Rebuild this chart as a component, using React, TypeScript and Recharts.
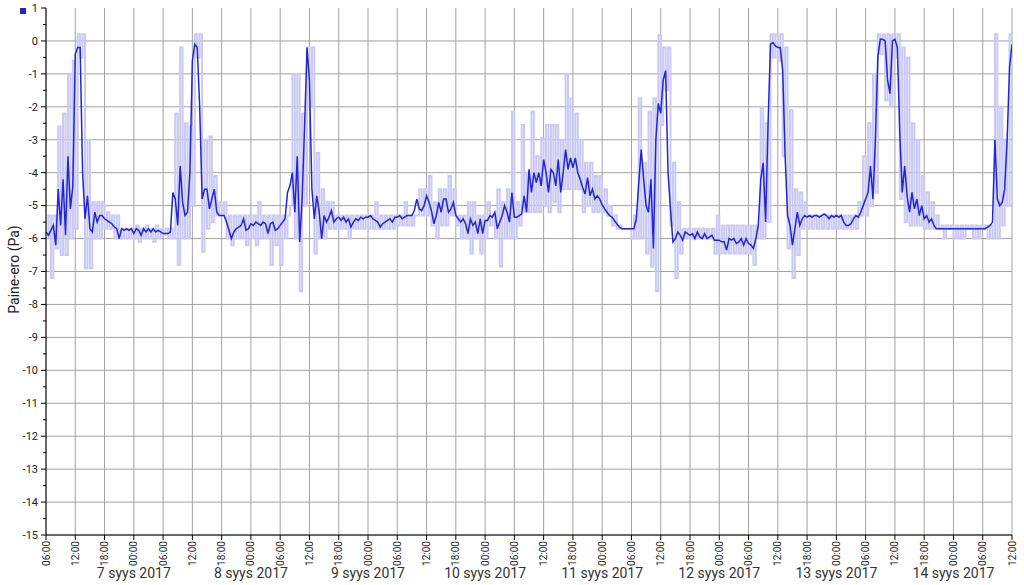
import { CartesianGrid, ComposedChart, Line, XAxis, YAxis } from "recharts";

const DARK = "#2424d4";
const LIGHT = "#c9c9f4";
const GRID = "#a3a3a3";
const FONT = "Roboto, 'Open Sans', sans-serif";

// x = hours since 6 syys 2017 06:00, one tick every 6 h
const HOUR_LABELS = ["06:00", "12:00", "18:00", "00:00"];
const DAY_LABELS = [
  "7 syys 2017",
  "8 syys 2017",
  "9 syys 2017",
  "10 syys 2017",
  "11 syys 2017",
  "12 syys 2017",
  "13 syys 2017",
  "14 syys 2017",
];
const X_TICKS = Array.from({ length: 34 }, (_, i) => i * 6);
const Y_TICKS = Array.from({ length: 33 }, (_, i) => -15 + i * 0.5);
const Y_GRID = Array.from({ length: 16 }, (_, i) => -15 + i);

// smoothed pressure difference, every 30 min (Pa)
const smoothed = [
  // 6.9. 06:00 ->
  -5.8, -5.9, -5.75, -5.6, -6.2, -4.5, -5.6, -4.2, -5.9, -3.5, -5.1, -4.4,
  -0.4, -0.2, -0.2, -4.0, -5.4, -4.7, -5.7, -5.8, -5.2, -5.5, -5.3, -5.3,
  -5.4, -5.45, -5.5, -5.55, -5.65, -5.7, -6.0, -5.7, -5.75, -5.7, -5.75, -5.7,
  -5.85, -5.7, -5.75, -5.9, -5.7, -5.8, -5.7, -5.8, -5.7, -5.8, -5.75, -5.8,
  // 7.9. 06:00 ->
  -5.85, -5.85, -5.85, -5.8, -4.6, -4.8, -5.6, -3.8, -4.9, -5.3, -5.2, -4.0,
  -0.6, -0.1, -0.2, -2.0, -4.8, -4.5, -4.5, -5.1, -4.8, -4.5, -5.2, -5.3,
  -5.3, -5.3, -5.5, -5.75, -6.0, -5.8, -5.7, -5.65, -5.6, -5.4, -5.75, -5.7,
  -5.55, -5.6, -5.5, -5.55, -5.6, -5.5, -5.55, -5.85, -5.55, -5.5, -5.75, -5.7,
  // 8.9. 06:00 ->
  -5.6, -5.5, -5.4, -4.6, -4.4, -4.0, -5.2, -3.5, -6.1, -4.8, -2.6, -0.2,
  -1.2, -4.5, -5.4, -4.7, -5.2, -6.0, -5.3, -5.5, -5.35, -5.15, -5.5, -5.4,
  -5.35, -5.45, -5.35, -5.5, -5.4, -5.65, -5.5, -5.4, -5.45, -5.35, -5.4, -5.35,
  -5.35, -5.3, -5.4, -5.45, -5.5, -5.65, -5.55, -5.5, -5.45, -5.4, -5.5, -5.35,
  // 9.9. 06:00 ->
  -5.35, -5.3, -5.4, -5.35, -5.3, -5.3, -5.3, -5.15, -4.8, -5.1, -5.15, -5.0,
  -4.7, -4.9, -5.15, -5.55, -5.3, -4.9, -5.2, -4.8, -4.8, -5.2, -5.1, -4.9,
  -5.3, -5.4, -5.5, -5.4, -5.55, -5.85, -5.4, -5.6, -5.5, -5.85, -5.4, -5.85,
  -5.45, -5.45, -5.3, -5.35, -5.2, -5.7, -5.5, -5.3, -5.0, -5.2, -5.5, -4.6,
  // 10.9. 06:00 ->
  -5.35, -5.35, -5.3, -5.25, -4.7, -5.2, -3.9, -4.6, -4.0, -4.3, -4.0, -4.4,
  -3.6, -4.0, -4.6, -3.9, -4.0, -4.4, -3.6, -4.6, -4.0, -3.3, -3.9, -3.55,
  -3.85, -3.55, -4.0, -4.2, -4.45, -4.65, -4.15, -4.7, -4.5, -4.8, -4.7, -4.8,
  -4.98, -5.1, -5.2, -5.3, -5.35, -5.45, -5.55, -5.65, -5.7, -5.7, -5.7, -5.7,
  // 11.9. 06:00 ->
  -5.7, -5.7, -5.4, -4.3, -3.3, -4.2, -5.0, -5.2, -4.2, -6.3, -3.0, -1.9,
  -2.2, -1.2, -0.9, -4.0, -5.1, -6.1, -6.0, -5.8, -5.9, -6.05, -5.8, -5.85,
  -5.9, -5.85, -6.0, -5.8, -5.95, -6.0, -5.85, -6.0, -5.95, -5.9, -6.05, -6.05,
  -6.05, -6.1, -6.1, -6.35, -6.0, -6.05, -6.0, -6.15, -6.1, -6.0, -6.2, -6.0,
  // 12.9. 06:00 ->
  -6.15, -6.2, -6.3, -6.0, -5.6, -4.2, -3.7, -5.5, -2.5, -0.1, -0.05, -0.15,
  -0.2, -0.2, -0.9, -3.5, -5.3, -5.6, -6.2, -5.7, -5.2, -5.6, -5.4, -5.3,
  -5.35, -5.3, -5.35, -5.3, -5.3, -5.35, -5.3, -5.25, -5.3, -5.4, -5.3, -5.35,
  -5.3, -5.35, -5.3, -5.5, -5.6, -5.6, -5.55, -5.4, -5.3, -5.35, -5.2, -5.0,
  // 13.9. 06:00 -> 14.9. 12:00
  -4.8, -4.6, -3.8, -4.8, -3.0, -0.5, 0.05, 0.05, 0.0, -1.2,
  -1.6, 0.0, 0.05, -0.2, -2.8, -4.6, -3.8, -4.7, -5.2, -4.6,
  -5.1, -4.8, -5.3, -5.0, -5.4, -5.3, -5.5, -5.4, -5.6, -5.7,
  -5.7, -5.7, -5.7, -5.7, -5.7, -5.7, -5.7, -5.7, -5.7, -5.7,
  -5.7, -5.7, -5.7, -5.7, -5.7, -5.7, -5.7, -5.7, -5.7, -5.7,
  -5.65, -5.6, -5.5, -3.0, -4.8, -5.0, -4.9, -4.5, -3.0, -0.8,
  -0.1,
];

// raw readings: hourly upper and lower swing (Pa)
const rawHigh = [
  -5.3, -5.3, -2.6, -2.2, -1.0, -0.6, 0.2, 0.2, -3.0, -4.9, -4.9, -4.9,
  -5.2, -5.3, -5.3, -5.7, -5.7, -5.7, -5.6, -5.7, -5.6, -5.7, -5.6, -5.7,
  -5.7, -5.7, -2.2, -0.2, -2.5, -2.6, 0.2, 0.2, -3.0, -2.9, -4.1, -4.9,
  -4.9, -5.3, -5.3, -5.3, -5.3, -5.3, -5.3, -4.9, -5.3, -5.3, -5.3, -5.3,
  -5.3, -5.3, -1.0, -1.0, -2.2, -0.2, -0.2, -3.4, -4.5, -4.9, -4.9, -5.3,
  -5.3, -5.3, -5.3, -5.3, -5.3, -5.3, -5.3, -4.9, -5.3, -5.3, -5.3, -5.3,
  -5.3, -4.9, -5.3, -5.3, -4.5, -4.5, -4.1, -4.9, -4.5, -4.5, -4.1, -4.5,
  -5.3, -5.3, -4.9, -4.9, -5.3, -5.3, -4.9, -5.3, -4.5, -4.9, -4.5, -2.15,
  -4.9, -2.55, -4.0, -2.15, -3.5, -2.95, -2.55, -2.55, -2.55, -3.0, -1.0, -1.75,
  -2.2, -3.0, -3.7, -3.7, -4.1, -4.1, -4.5, -5.0, -5.3, -5.6, -5.7, -5.7,
  -5.3, -1.75, -3.7, -2.15, -1.75, 0.17, -0.2, -0.2, -3.7, -4.9, -5.7, -5.7,
  -5.7, -5.7, -5.7, -5.7, -5.7, -5.3, -5.6, -5.6, -5.6, -5.6, -5.6, -5.6,
  -5.6, -5.6, -2.0, -2.5, 0.2, 0.2, 0.2, -0.2, -2.1, -4.5, -4.6, -4.9,
  -5.3, -5.3, -5.3, -5.3, -5.3, -5.3, -5.3, -5.3, -5.3, -5.3, -4.9, -3.5,
  -2.5, -1.0, 0.2, 0.2, 0.2, 0.2, 0.2, -0.2, -0.5, -2.5, -3.0, -4.1,
  -4.6, -4.9, -5.3, -5.6, -5.6, -5.6, -5.6, -5.6, -5.6, -5.6, -5.6, -5.6,
  -5.6, -5.6, 0.2, -2.0, -3.0, 0.2, 0.2,
];

const rawLow = [
  -6.0, -7.2, -6.3, -6.5, -6.5, -6.0, -5.7, -0.5, -6.9, -6.9, -6.0, -6.0,
  -5.7, -5.7, -6.0, -6.0, -6.0, -6.0, -6.0, -6.1, -6.0, -6.0, -6.1, -6.0,
  -5.9, -6.0, -6.0, -6.8, -6.0, -6.0, -5.0, -0.5, -6.4, -5.7, -5.5, -5.3,
  -5.3, -6.0, -6.2, -6.0, -6.0, -6.2, -6.0, -6.2, -6.0, -6.0, -6.8, -6.2,
  -6.8, -6.0, -5.0, -6.0, -7.6, -5.0, -2.0, -6.45, -6.0, -6.0, -5.7, -5.7,
  -5.7, -5.7, -6.0, -5.7, -5.7, -5.7, -5.7, -5.7, -5.7, -5.7, -5.7, -5.7,
  -5.6, -5.6, -5.6, -5.6, -5.3, -5.3, -5.3, -5.6, -6.0, -5.6, -5.6, -5.3,
  -5.6, -6.0, -6.0, -6.45, -6.0, -6.45, -6.0, -5.6, -6.0, -6.85, -6.0, -6.0,
  -6.0, -5.6, -5.2, -5.2, -5.2, -5.2, -5.0, -5.2, -4.9, -5.2, -4.5, -4.5,
  -4.5, -4.5, -5.2, -5.0, -5.2, -5.2, -5.2, -5.3, -5.6, -5.7, -5.7, -5.7,
  -6.0, -6.0, -6.0, -6.45, -6.85, -7.6, -2.55, -1.5, -5.6, -7.2, -6.45, -6.0,
  -6.0, -6.0, -6.0, -6.0, -6.0, -6.45, -6.45, -6.45, -6.45, -6.45, -6.45, -6.45,
  -6.45, -6.8, -6.0, -6.0, -5.5, -0.5, -0.6, -3.5, -6.3, -7.2, -6.5, -5.7,
  -5.7, -5.7, -5.7, -5.7, -5.7, -5.7, -5.7, -5.7, -5.7, -5.7, -5.7, -5.3,
  -5.3, -5.0, -4.6, -0.4, -1.8, -2.0, -0.5, -4.8, -5.5, -5.6, -5.6, -5.6,
  -5.7, -5.7, -5.7, -5.7, -6.0, -5.7, -6.0, -6.0, -6.0, -5.7, -6.0, -6.0,
  -5.7, -6.0, -6.0, -6.0, -5.6, -5.0, -0.5,
];

const smoothData = smoothed.map((v, i) => ({ t: i / 2, v }));
const rawData = rawLow.flatMap((lo, h) =>
  h < rawLow.length - 1
    ? [
        { t: h, v: lo },
        { t: h + 0.5, v: rawHigh[h] },
      ]
    : [{ t: h, v: lo }]
);

const Y_TICK_SIZE = 5;
const Y_TICK_MARGIN = 3;

function TimeTick({ x, y, payload }: any) {
  const t = payload.value as number;
  const dayIdx = (t - 18) / 24;
  const day = Number.isInteger(dayIdx) && dayIdx >= 0 ? DAY_LABELS[dayIdx] : null;
  return (
    <g>
      <text
        x={x}
        y={y}
        transform={`rotate(-90 ${x} ${y})`}
        textAnchor="end"
        dy="0.35em"
        fontSize={10}
        fontFamily={FONT}
        fill="#222"
      >
        {HOUR_LABELS[(t / 6) % 4]}
      </text>
      {day && (
        <text x={x} y={y + 37} textAnchor="middle" fontSize={14} fontFamily={FONT} fill="#333">
          {day}
        </text>
      )}
    </g>
  );
}

function PressureTick({ x, y, payload }: any) {
  const v = payload.value as number;
  const axisX = x + Y_TICK_SIZE + Y_TICK_MARGIN;
  const major = Number.isInteger(v);
  return (
    <g>
      <line x1={axisX - (major ? 5 : 3)} x2={axisX} y1={y} y2={y} stroke="#000" />
      {major && (
        <text x={x} y={y} dy="0.35em" textAnchor="end" fontSize={11} fontFamily={FONT} fill="#222">
          {v}
        </text>
      )}
    </g>
  );
}

function AxisTitle({ viewBox }: any) {
  const cx = viewBox.x + 19;
  const cy = viewBox.y + viewBox.height / 2 - 2;
  return (
    <text
      x={cx}
      y={cy}
      transform={`rotate(-90 ${cx} ${cy})`}
      textAnchor="middle"
      fontSize={14}
      fontFamily={FONT}
      fill="#222"
    >
      Paine-ero (Pa)
    </text>
  );
}

export default function App() {
  return (
    <div style={{ position: "absolute", left: 0, top: 0, width: 1024, height: 585, background: "#fff" }}>
      <div style={{ position: "absolute", left: 20, top: 8, width: 6, height: 6, background: DARK }} />
      <ComposedChart width={1024} height={585} margin={{ top: 8, right: 12, bottom: 0, left: 0 }}>
        <CartesianGrid
          stroke={GRID}
          horizontalValues={Y_GRID}
          verticalValues={X_TICKS}
        />
        <XAxis
          dataKey="t"
          type="number"
          domain={[0, 198]}
          ticks={X_TICKS}
          interval={0}
          height={50}
          tickSize={5}
          tickMargin={1}
          stroke="#000"
          tick={<TimeTick />}
          allowDataOverflow
        />
        <YAxis
          type="number"
          domain={[-15, 1]}
          ticks={Y_TICKS}
          interval={0}
          width={46}
          tickSize={Y_TICK_SIZE}
          tickMargin={Y_TICK_MARGIN}
          tickLine={false}
          stroke="#000"
          tick={<PressureTick />}
          label={<AxisTitle />}
          allowDataOverflow
        />
        <Line
          data={rawData}
          dataKey="v"
          type="stepAfter"
          stroke={LIGHT}
          strokeWidth={2}
          dot={false}
          activeDot={false}
          isAnimationActive={false}
        />
        <Line
          data={smoothData}
          dataKey="v"
          type="linear"
          stroke={DARK}
          strokeWidth={1.5}
          dot={false}
          activeDot={false}
          isAnimationActive={false}
        />
      </ComposedChart>
    </div>
  );
}
